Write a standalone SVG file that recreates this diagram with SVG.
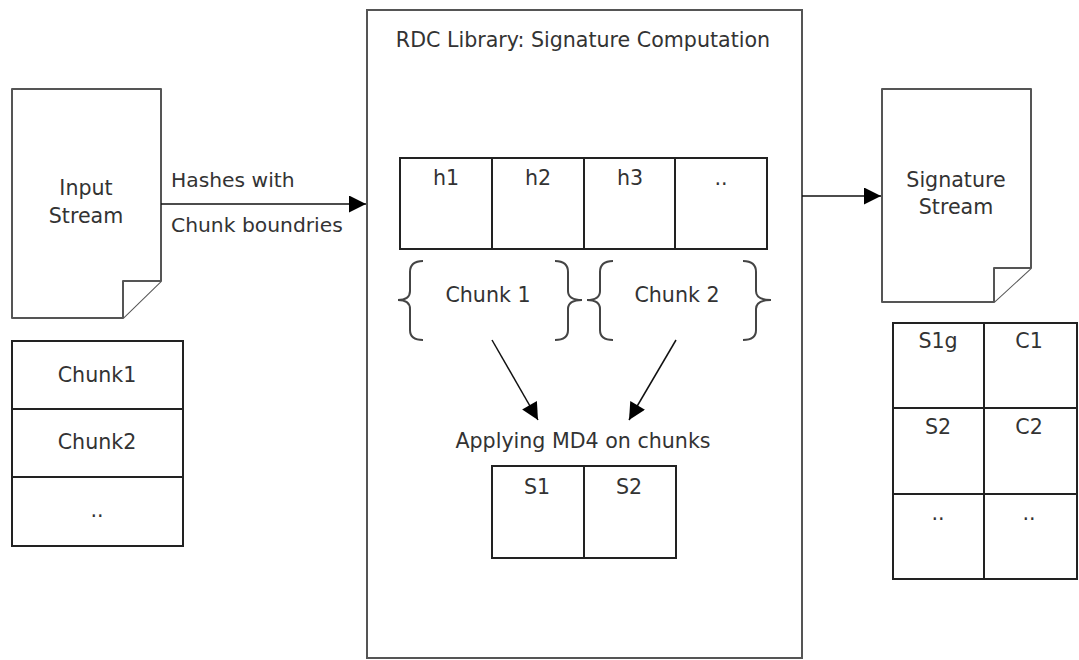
<svg xmlns="http://www.w3.org/2000/svg" width="1079" height="660" viewBox="0 0 1079 660">
<defs>
<style>
text{font-family:"DejaVu Sans","Liberation Sans",sans-serif;font-size:20.6px;fill:#333;text-anchor:middle}
.lbl{font-size:20.3px;text-anchor:start}
.doc{fill:#fff;stroke:#555;stroke-width:2;stroke-linejoin:round}
.box{fill:#fff;stroke:#555;stroke-width:2}
.tbl{fill:#fff;stroke:#222;stroke-width:2}
.ln{fill:none;stroke:#222;stroke-width:2}
.conn{fill:none;stroke:#111;stroke-width:1.5}
.brace{fill:none;stroke:#444;stroke-width:2}
</style>
<marker id="ah" viewBox="0 0 10 10" refX="10" refY="5" markerUnits="userSpaceOnUse" markerWidth="24" markerHeight="17" orient="auto">
<path d="M0,0 L10,5 L0,10 Z" fill="#000"/>
</marker>
</defs>
<g id="library">
<rect class="box" x="367" y="10" width="435" height="648"/>
<text x="583" y="47">RDC Library: Signature Computation</text>
</g>
<g id="input-stream">
<path class="doc" d="M12,89 H161 V281 L123,318 H12 Z"/>
<path class="doc" d="M161,281 H123 V318"/>
<text x="86" y="195">Input</text>
<text x="86" y="223">Stream</text>
</g>
<g id="input-chunks">
<rect class="tbl" x="12" y="341" width="171" height="205"/>
<line class="ln" x1="12" y1="409" x2="183" y2="409"/>
<line class="ln" x1="12" y1="477" x2="183" y2="477"/>
<text x="97" y="382">Chunk1</text>
<text x="97" y="449">Chunk2</text>
<text x="97" y="517">..</text>
</g>
<g id="hash-table">
<rect class="tbl" x="400" y="158" width="367" height="91"/>
<line class="ln" x1="492" y1="158" x2="492" y2="249"/>
<line class="ln" x1="584" y1="158" x2="584" y2="249"/>
<line class="ln" x1="675" y1="158" x2="675" y2="249"/>
<text x="446" y="185">h1</text>
<text x="538" y="185">h2</text>
<text x="630" y="185">h3</text>
<text x="721" y="185">..</text>
</g>
<g id="chunk1">
<path class="brace" d="M423,261 Q410,261 410,272 V291 Q410,300 398,300 Q410,300 410,309 V330 Q410,340 423,340"/>
<path class="brace" d="M555,261 Q568,261 568,272 V291 Q568,300 582,300 Q568,300 568,309 V330 Q568,340 555,340"/>
<text x="488" y="302">Chunk 1</text>
</g>
<g id="chunk2">
<path class="brace" d="M613,261 Q600,261 600,272 V291 Q600,300 587,300 Q600,300 600,309 V330 Q600,340 613,340"/>
<path class="brace" d="M743,261 Q756,261 756,272 V291 Q756,300 771,300 Q756,300 756,309 V330 Q756,340 743,340"/>
<text x="677" y="302">Chunk 2</text>
</g>
<g id="md4">
<text x="583" y="448">Applying MD4 on chunks</text>
<rect class="tbl" x="492" y="466" width="184" height="92"/>
<line class="ln" x1="584" y1="466" x2="584" y2="558"/>
<text x="537" y="494">S1</text>
<text x="629" y="494">S2</text>
</g>
<g id="signature-stream">
<path class="doc" d="M882,89 H1031 V268 L994,302 H882 Z"/>
<path class="doc" d="M1031,268 H994 V302"/>
<text x="956" y="187">Signature</text>
<text x="956" y="214">Stream</text>
</g>
<g id="signature-table">
<rect class="tbl" x="893" y="323" width="184" height="256"/>
<line class="ln" x1="984" y1="323" x2="984" y2="579"/>
<line class="ln" x1="893" y1="408" x2="1077" y2="408"/>
<line class="ln" x1="893" y1="494" x2="1077" y2="494"/>
<text x="938" y="348">S1g</text>
<text x="1029" y="348">C1</text>
<text x="938" y="434">S2</text>
<text x="1029" y="434">C2</text>
<text x="938" y="520">..</text>
<text x="1029" y="520">..</text>
</g>
<g id="connectors">
<line class="conn" x1="161" y1="204" x2="366" y2="204" marker-end="url(#ah)"/>
<text class="lbl" x="171" y="187">Hashes with</text>
<text class="lbl" x="171" y="232">Chunk boundries</text>
<line class="conn" x1="802" y1="196" x2="881" y2="196" marker-end="url(#ah)"/>
<line class="conn" x1="492" y1="340" x2="538" y2="420" marker-end="url(#ah)"/>
<line class="conn" x1="676" y1="340" x2="629" y2="420" marker-end="url(#ah)"/>
</g>
</svg>
